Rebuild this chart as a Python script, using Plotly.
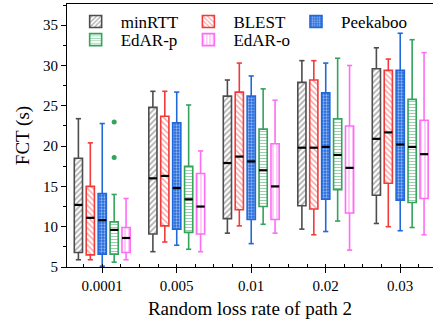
import plotly.graph_objects as go

categories = ["0.0001", "0.005", "0.01", "0.02", "0.03"]
series = ["minRTT", "BLEST", "Peekaboo", "EdAR-p", "EdAR-o"]

# per-series stats, one value per category
lower = {
    "minRTT":   [5.9, 6.9, 9.2, 9.7, 10.4],
    "BLEST":    [5.9, 8.1, 10.1, 9.0, 10.0],
    "Peekaboo": [5.1, 7.7, 7.9, 9.4, 9.5],
    "EdAR-p":   [5.6, 7.2, 10.3, 10.7, 9.9],
    "EdAR-o":   [5.9, 6.9, 9.2, 7.1, 9.0],
}
q1 = {
    "minRTT":   [6.8, 9.1, 11.0, 12.6, 13.9],
    "BLEST":    [6.5, 10.1, 12.1, 12.2, 15.4],
    "Peekaboo": [6.6, 9.7, 10.9, 13.4, 13.3],
    "EdAR-p":   [6.6, 9.3, 12.5, 14.6, 13.0],
    "EdAR-o":   [6.8, 9.1, 10.9, 11.7, 13.5],
}
median = {
    "minRTT":   [12.7, 16.0, 17.9, 19.8, 20.9],
    "BLEST":    [11.1, 16.3, 18.7, 19.8, 21.7],
    "Peekaboo": [10.8, 14.8, 18.1, 19.9, 20.2],
    "EdAR-p":   [9.6, 13.4, 17.0, 18.9, 19.9],
    "EdAR-o":   [8.6, 12.5, 15.0, 17.3, 19.0],
}
q3 = {
    "minRTT":   [18.5, 24.8, 26.2, 27.9, 29.6],
    "BLEST":    [15.0, 23.7, 26.7, 28.2, 29.4],
    "Peekaboo": [14.1, 22.9, 26.2, 26.6, 29.4],
    "EdAR-p":   [10.6, 17.5, 22.1, 23.4, 25.8],
    "EdAR-o":   [9.9, 16.6, 20.3, 22.5, 23.2],
}
upper = {
    "minRTT":   [23.4, 26.8, 28.2, 30.6, 32.2],
    "BLEST":    [20.4, 26.8, 30.3, 30.6, 30.8],
    "Peekaboo": [22.8, 26.7, 28.7, 30.3, 34.0],
    "EdAR-p":   [14.0, 25.1, 27.1, 30.9, 33.2],
    "EdAR-o":   [13.5, 19.4, 25.7, 30.0, 31.6],
}
outlier_cat = {"EdAR-p": [0, 0]}
outlier_val = {"EdAR-p": [23.0, 18.6]}

colors = {
    "minRTT": "#4d4d4d",
    "BLEST": "#f23a3a",
    "Peekaboo": "#2168db",
    "EdAR-p": "#34a35c",
    "EdAR-o": "#ff6cf5",
}
patterns = {
    "minRTT":   dict(shape="/", fgcolor="#555555", bgcolor="white", size=4, solidity=0.4),
    "BLEST":    dict(shape="\\", fgcolor="#f23a3a", bgcolor="white", size=4, solidity=0.35),
    "Peekaboo": dict(shape=".", fgcolor="white", bgcolor="#2168db", size=3, solidity=0.45),
    "EdAR-p":   dict(shape="-", fgcolor="#34a35c", bgcolor="white", size=3, solidity=0.35),
    "EdAR-o":   dict(shape="|", fgcolor="#ff6cf5", bgcolor="white", size=4, solidity=0.35),
}
# legend slot (column x, row y) for each series
legend_pos = {
    "minRTT":   (0.01, 0.932),
    "BLEST":    (0.318, 0.932),
    "Peekaboo": (0.612, 0.932),
    "EdAR-p":   (0.01, 0.863),
    "EdAR-o":   (0.318, 0.863),
}

step = 0.16
box_w = 0.11
cap = 0.035
FONT = "Liberation Serif"

fig = go.Figure()
legend_layout = {}
for k, s in enumerate(series):
    off = (k - 2) * step
    xs = [i + off for i in range(len(categories))]
    lname = "legend" if k == 0 else f"legend{k + 1}"
    fig.add_trace(go.Bar(
        x=xs, base=q1[s], y=[b - a for a, b in zip(q1[s], q3[s])],
        width=box_w, name=s, legend=lname,
        marker=dict(color="white", line=dict(color=colors[s], width=1.6),
                    pattern=patterns[s]),
    ))
    lx, ly = legend_pos[s]
    legend_layout[lname] = dict(orientation="h", x=lx, y=ly, xanchor="left",
                                yanchor="middle", font=dict(family=FONT, size=17),
                                bgcolor="rgba(0,0,0,0)", itemwidth=40)

for k, s in enumerate(series):
    off = (k - 2) * step
    wx, wy, mx, my = [], [], [], []
    for i in range(len(categories)):
        x0 = i + off
        wx += [x0, x0, None, x0, x0, None,
               x0 - cap, x0 + cap, None, x0 - cap, x0 + cap, None]
        wy += [lower[s][i], q1[s][i], None, q3[s][i], upper[s][i], None,
               upper[s][i], upper[s][i], None, lower[s][i], lower[s][i], None]
        mx += [x0 - box_w / 2, x0 + box_w / 2, None]
        my += [median[s][i], median[s][i], None]
    fig.add_trace(go.Scatter(x=wx, y=wy, mode="lines", showlegend=False,
                             line=dict(color=colors[s], width=1.6), hoverinfo="skip"))
    fig.add_trace(go.Scatter(x=mx, y=my, mode="lines", showlegend=False,
                             line=dict(color="black", width=2.2), hoverinfo="skip"))
    if s in outlier_cat:
        fig.add_trace(go.Scatter(
            x=[c + off for c in outlier_cat[s]], y=outlier_val[s], mode="markers",
            showlegend=False, marker=dict(color=colors[s], size=5), hoverinfo="skip"))

fig.update_layout(
    width=433, height=323,
    margin=dict(l=67, r=0, t=4, b=56),
    paper_bgcolor="white", plot_bgcolor="white",
    barmode="overlay",
    font=dict(family=FONT, color="black", size=15),
    xaxis=dict(range=[-0.473, 4.44], tickvals=list(range(len(categories))),
               ticktext=categories, showgrid=False, zeroline=False,
               showline=True, linecolor="black", linewidth=1.2, mirror=True,
               ticks="outside", ticklen=5, tickcolor="black",
               minor=dict(dtick=0.25, tick0=0, ticks="inside", ticklen=3, tickcolor="black"),
               tickfont=dict(size=15),
               title=dict(text="Random loss rate of path 2", font=dict(size=19), standoff=8)),
    yaxis=dict(range=[5, 37.63], tickvals=[5, 10, 15, 20, 25, 30, 35],
               showgrid=False, zeroline=False,
               showline=True, linecolor="black", linewidth=1.2,
               ticks="outside", ticklen=5, tickcolor="black",
               minor=dict(dtick=2.5, tick0=5, ticks="outside", ticklen=3, tickcolor="black"),
               tickfont=dict(size=15),
               title=dict(text="FCT (s)", font=dict(size=19), standoff=8)),
    **legend_layout,
)

fig.write_html("out.html", config={"displayModeBar": False},
               post_script="document.body.style.margin='0';document.body.style.overflow='hidden';")
